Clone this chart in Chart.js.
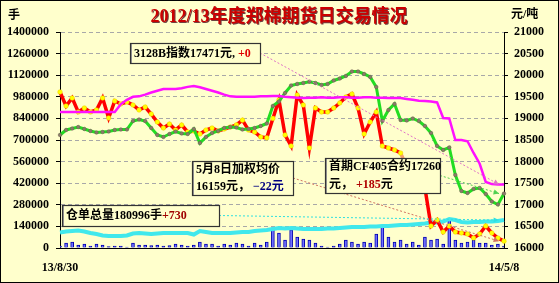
<!DOCTYPE html>
<html>
<head>
<meta charset="utf-8">
<title>2012/13年度郑棉期货日交易情况</title>
<script src="https://cdn.jsdelivr.net/npm/chart.js"></script>
<style>
  html, body { margin: 0; padding: 0; background: #ffffcc; }
</style>
</head>
<body>
<canvas id="myChart" width="559" height="283"></canvas>
<script>
// right axis, yuan/ton
var index3128B = [19150, 19150, 19150, 19150, 19150, 19150, 19150, 19150, 19150, 19150,
  19330, 19430, 19500, 19510, 19550, 19600, 19640, 19680, 19680, 19680,
  19700, 19730, 19750, 19720, 19680, 19640, 19600, 19550, 19510, 19500,
  19500, 19500, 19500, 19510, 19510, 19520, 19520, 19500, 19490, 19480,
  19470, 19480, 19480, 19490, 19480, 19480, 19490, 19490, 19480, 19480,
  19490, 19490, 19480, 19480, 19470, 19470, 19470, 19450, 19430, 19410,
  19400, 19390, 19370, 19010, 19000, 18500, 18500, 18470, 18200, 17950,
  17530, 17480, 17470, 17471];
var contractCF405 = [18616, 18732, 18766, 18800, 18755, 18709, 18674, 18685, 18697, 18732,
  18743, 18743, 18940, 18975, 18940, 18778, 18616, 18570, 18639, 18697,
  18651, 18639, 18755, 18430, 18570, 18662, 18709, 18778, 18800, 18790,
  18743, 18755, 18778, 18824, 18882, 19287, 19391, 19588, 19762, 19797,
  19820, 19850, 19820, 19773, 19797, 19878, 19924, 19982, 20086, 20086,
  20028, 19959, 19727, 18940, 19195, 19334, 18963, 18952, 18998, 18940,
  18824, 18662, 18361, 18269, 18327, 17690, 17320, 17273, 17366, 17389,
  17250, 17076, 17007, 17260];
var weightedAvg = [19611, 19287, 19472, 19148, 19241, 19148, 19195, 19472, 19010, 19403,
  19334, 19380, 19310, 19195, 19264, 19102, 18917, 18778, 18870, 18732,
  18847, 18685, 18709, 18639, 18732, 18778, 18709, 18755, 18800, 18850,
  18960, 18730, 18685, 18570, 18550, 19000, 19426, 18616, 18361, 19542,
  19310, 18315, 19241, 19148, 19148, 19241, 19357, 19496, 19565, 19241,
  18639, 18917, 19148, 18361, 18315, 18269, 18199, 17875, 17690, 17435,
  17389, 16509, 16648, 16370, 16509, 16370, 16347, 16324, 16231, 16324,
  16509, 16347, 16231, 16159];
// left axis, lots
var receipts = [100500, 106900, 110200, 113400, 106900, 97200, 90700, 81000, 77800, 77800,
  77800, 81000, 94000, 97200, 94000, 90700, 94000, 97200, 97200, 97200,
  97200, 97200, 87500, 110200, 103700, 97200, 97200, 97200, 97200, 100500,
  103700, 103700, 110200, 113400, 116700, 123100, 129600, 126400, 129600, 126400,
  123100, 123100, 123100, 123100, 126400, 126400, 129600, 132900, 136100, 136100,
  136100, 139300, 139300, 142600, 142600, 145800, 149100, 149100, 152300, 155500,
  158800, 165300, 165300, 171700, 188000, 181500, 168500, 165300, 168500, 168500,
  171700, 171700, 175000, 180996];
var volume = [13000, 32000, 39000, 19000, 26000, 13000, 26000, 19000, 10000, 13000,
  13000, 6000, 32000, 19000, 19000, 16000, 19000, 13000, 16000, 26000,
  19000, 13000, 19000, 39000, 26000, 26000, 13000, 26000, 19000, 32000,
  26000, 13000, 32000, 19000, 39000, 130000, 97000, 52000, 117000, 71000,
  58000, 52000, 32000, 13000, 6000, 13000, 26000, 52000, 39000, 26000,
  39000, 32000, 91000, 136000, 71000, 39000, 52000, 26000, 39000, 19000,
  71000, 52000, 58000, 26000, 181000, 52000, 32000, 39000, 52000, 32000,
  32000, 19000, 26000, 13000];
var firstDay = '13/8/30';
var lastDay = '14/5/8';
var indexChange = '+0';
var weightedChange = '−22';
var contractChange = '+185';
var receiptsChange = '+730';

var n = weightedAvg.length;
var labels = weightedAvg.map(function (v, i) {
  return i == 0 ? firstDay : (i == n - 1 ? lastDay : '');
});
var last = function (a) { return a[a.length - 1]; };

var FONT = '"Liberation Serif", "Noto Sans CJK SC", serif';
var BG = '#ffffcc';

var notes = [
  {box: [130, 43, 130, 20], set: 0, lines: [[['3128B指数' + last(index3128B) + '元, ', '#000'], [indexChange, '#e00000']]], color: '#e070c8'},
  {box: [192, 161, 101, 34], set: 2, lines: [[['5月8日加权均价', '#000']], [[last(weightedAvg) + '元， ', '#000'], [weightedChange, '#000080'], ['元', '#000080']]], color: '#d07060'},
  {box: [325, 158, 115, 35], set: 1, lines: [[['首期CF405合约' + last(contractCF405), '#000']], [['元， ', '#000'], [contractChange, '#b00000'], ['元', '#000']]], color: '#50d050'},
  {box: [62, 205, 157, 21], set: 3, lines: [[['仓单总量' + last(receipts) + '手', '#000'], [receiptsChange, '#a00000']]], color: '#30e0e0'}
];

var frame = {
  id: 'frame',
  beforeDraw: function (chart) {
    var c = chart.ctx;
    c.save();
    c.fillStyle = BG;
    c.fillRect(0, 0, chart.width, chart.height);
    c.restore();
  },
  afterDraw: function (chart) {
    var c = chart.ctx;
    c.save();
    c.strokeStyle = '#000';
    c.lineWidth = 1;
    c.strokeRect(0.5, 0.5, chart.width - 1, chart.height - 1);
    c.textBaseline = 'middle';
    c.font = 'bold 18px ' + FONT;
    c.textAlign = 'center';
    c.fillStyle = '#704040';
    c.fillText('2012/13年度郑棉期货日交易情况', 280, 18);
    c.fillStyle = '#cc0000';
    c.fillText('2012/13年度郑棉期货日交易情况', 279, 17);
    c.font = 'bold 12px ' + FONT;
    c.fillStyle = '#000';
    c.textAlign = 'left';
    c.fillText('手', 8, 16);
    c.fillText('元/吨', 511, 15);
    c.restore();
  },
  afterDatasetsDraw: function (chart) {
    var c = chart.ctx;
    var xs = chart.scales.x;
    c.save();
    notes.forEach(function (nt) {
      var ds = chart.data.datasets[nt.set];
      var ys = chart.scales[ds.yAxisID];
      var b = nt.box;
      var x0 = b[0] + b[2], y0 = b[1] + b[3] / 2;
      var x1 = xs.getPixelForValue(n - 1) - 5, y1 = ys.getPixelForValue(last(ds.data));
      c.strokeStyle = nt.color;
      c.lineWidth = 1;
      c.setLineDash([2, 2]);
      c.beginPath(); c.moveTo(x0, y0); c.lineTo(x1, y1); c.stroke();
      c.setLineDash([]);
      var ang = Math.atan2(y1 - y0, x1 - x0);
      c.fillStyle = nt.color;
      c.beginPath();
      c.moveTo(x1, y1);
      c.lineTo(x1 - 6 * Math.cos(ang - 0.45), y1 - 6 * Math.sin(ang - 0.45));
      c.lineTo(x1 - 6 * Math.cos(ang + 0.45), y1 - 6 * Math.sin(ang + 0.45));
      c.closePath(); c.fill();
    });
    c.font = 'bold 12px ' + FONT;
    c.textBaseline = 'middle';
    c.textAlign = 'left';
    notes.forEach(function (nt) {
      var b = nt.box;
      c.fillStyle = BG;
      c.fillRect(b[0], b[1], b[2], b[3]);
      c.fillStyle = '#999';
      c.fillRect(b[0], b[1], 2, b[3]);
      c.strokeStyle = '#333';
      c.lineWidth = 1.2;
      c.strokeRect(b[0] + 0.5, b[1] + 0.5, b[2], b[3]);
      var lh = b[3] / nt.lines.length;
      nt.lines.forEach(function (runs, k) {
        var x = b[0] + 4, y = b[1] + lh * k + lh / 2 + 0.5;
        runs.forEach(function (r) {
          c.fillStyle = r[1];
          c.fillText(r[0], x, y);
          x += c.measureText(r[0]).width;
        });
      });
    });
    c.restore();
  }
};

var tickFont = {family: FONT, size: 12, weight: 'bold'};
var plain = function (v) { return String(v); };

var lightFrom = 56, lightTo = 60;

new Chart(document.getElementById('myChart'), {
  type: 'bar',
  data: {
    labels: labels,
    datasets: [{
      type: 'line', label: '3128B指数', data: index3128B, yAxisID: 'y1',
      borderColor: '#ff10ff', borderWidth: 2.5, pointRadius: 0, tension: 0, order: 1
    }, {
      type: 'line', label: '首期CF405合约', data: contractCF405, yAxisID: 'y1',
      borderColor: '#22dd22', borderWidth: 3, pointRadius: 1.8,
      pointBackgroundColor: '#8a7a6a', pointBorderColor: '#6a5a4a', pointBorderWidth: 0.5,
      tension: 0, order: 2
    }, {
      type: 'line', label: '加权均价', data: weightedAvg, yAxisID: 'y1',
      borderColor: '#ff0000', borderWidth: 3.5, pointRadius: 2.3,
      pointBackgroundColor: '#ffff00', pointBorderColor: '#f0d000', pointBorderWidth: 0.5,
      tension: 0, order: 3,
      segment: {
        borderColor: function (ctx) {
          return (ctx.p0DataIndex >= lightFrom && ctx.p1DataIndex <= lightTo) ? '#f4a070' : undefined;
        }
      }
    }, {
      type: 'line', label: '仓单总量', data: receipts, yAxisID: 'y',
      borderColor: '#40e8ec', borderWidth: 4, pointRadius: 0, tension: 0, order: 4
    }, {
      type: 'bar', label: '成交量', data: volume, yAxisID: 'y',
      backgroundColor: '#7070ff', borderColor: '#0000b0', borderWidth: 1,
      barThickness: 3, order: 5
    }]
  },
  options: {
    responsive: false,
    animation: false,
    layout: {padding: {top: 32, left: 0, right: 0, bottom: 0}},
    plugins: {legend: {display: false}, tooltip: {enabled: false}},
    scales: {
      x: {
        offset: false,
        grid: {display: false, drawTicks: false},
        border: {display: true, color: '#000', width: 1},
        ticks: {autoSkip: false, maxRotation: 0, padding: 13, color: '#000', font: tickFont},
        afterFit: function (s) { s.height = 35; }
      },
      y: {
        position: 'left', min: 0, max: 1400000,
        ticks: {stepSize: 140000, padding: 7, color: '#000', font: tickFont, callback: plain},
        grid: {color: '#a8a8a8', tickColor: '#000', tickLength: 4},
        border: {color: '#000', width: 1, dash: [4, 3]},
        afterFit: function (s) { s.width = 60; }
      },
      y1: {
        position: 'right', min: 16000, max: 21000,
        ticks: {stepSize: 500, padding: 6, color: '#000', font: tickFont, callback: plain},
        grid: {drawOnChartArea: false, tickColor: '#000', tickLength: 4},
        border: {color: '#000', width: 1},
        afterFit: function (s) { s.width = 55; }
      }
    }
  },
  plugins: [frame]
});
</script>
</body>
</html>
